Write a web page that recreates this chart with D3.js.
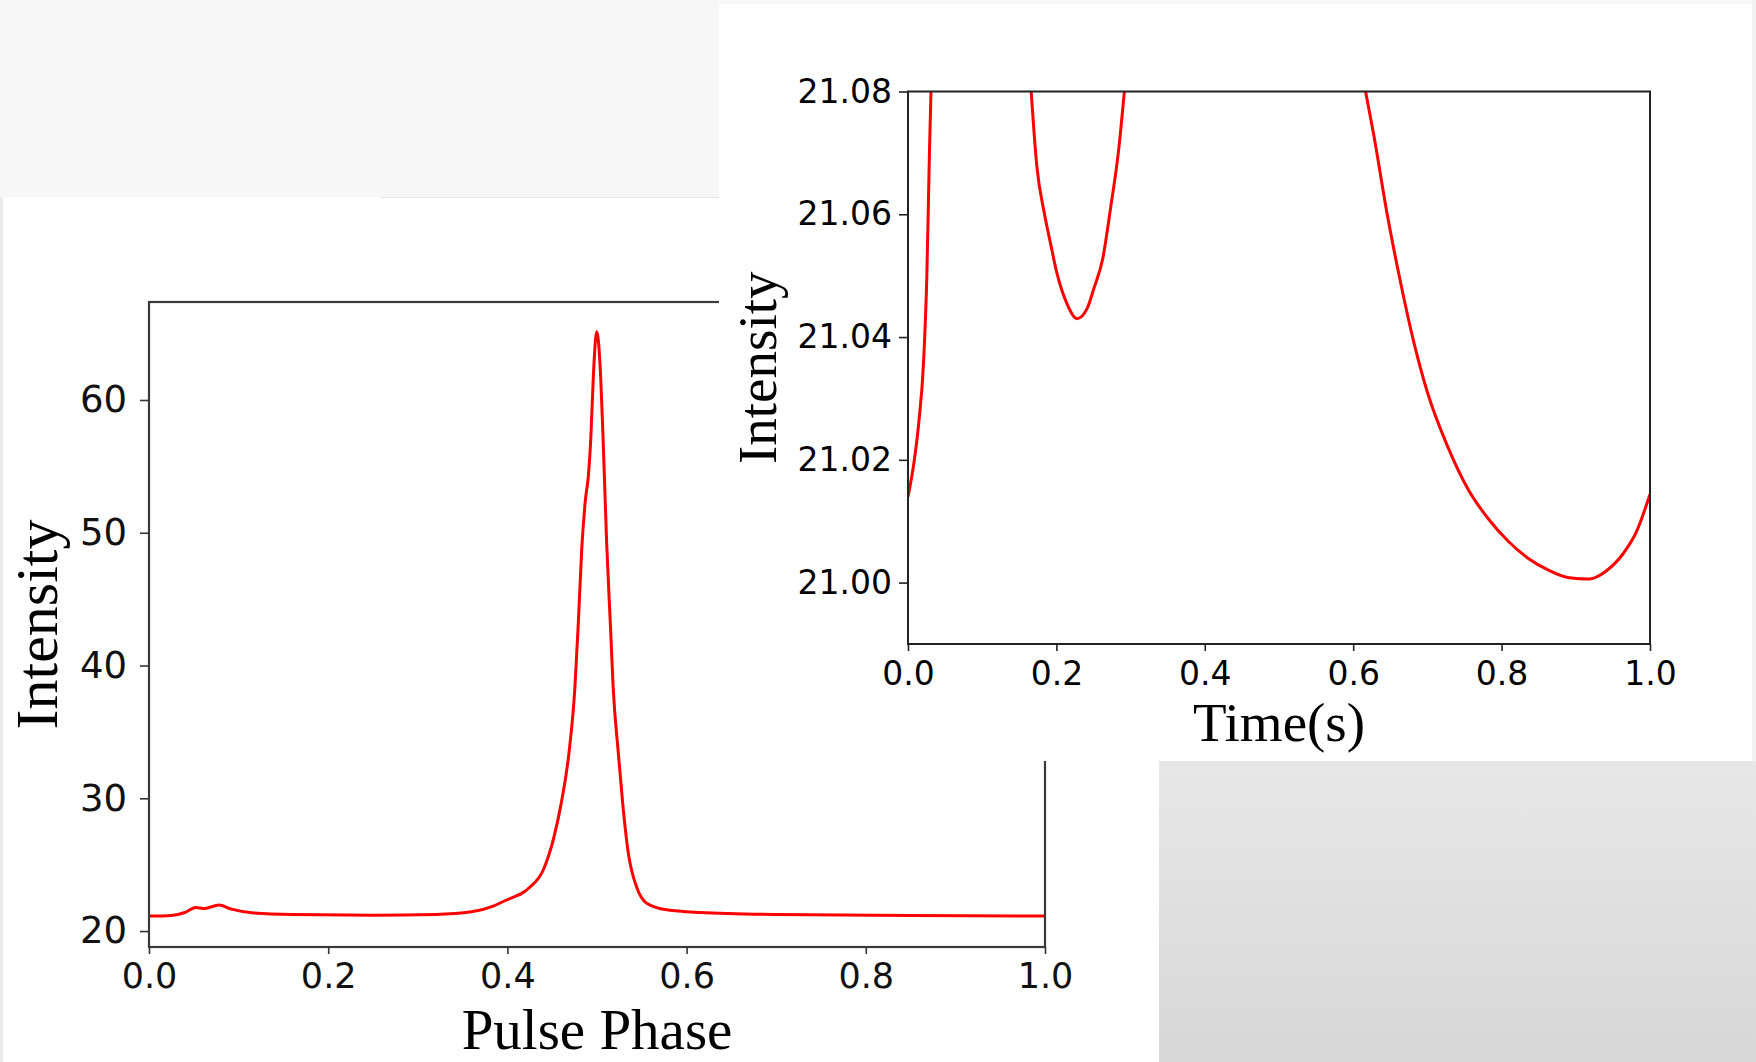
<!DOCTYPE html>
<html>
<head>
<meta charset="utf-8">
<script src="https://cdn.jsdelivr.net/npm/d3@7"></script>
<style>
  html, body { margin: 0; padding: 0; background: #fff; }
  svg { display: block; }
</style>
</head>
<body>
<svg id="chart" width="1756" height="1062"></svg>
<script>
// ---------- Data: left panel (pulse profile) ----------
const pulsePhase = [0, 0.025, 0.04, 0.052, 0.062, 0.078, 0.092, 0.115, 0.16, 0.25, 0.32, 0.36, 0.385, 0.399, 0.41, 0.416, 0.425, 0.44, 0.452, 0.46, 0.4687, 0.4754, 0.479, 0.483, 0.4868, 0.4905, 0.493, 0.4959, 0.4997, 0.5041, 0.507, 0.5108, 0.515, 0.518, 0.5238, 0.5287, 0.535, 0.5443, 0.5555, 0.5778, 0.615, 0.7, 0.85, 1.0];
const pulseIntensity = [21.13, 21.18, 21.4, 21.78, 21.7, 21.96, 21.65, 21.38, 21.25, 21.2, 21.25, 21.45, 21.9, 22.34, 22.65, 22.84, 23.3, 24.6, 27.1, 29.6, 33.4, 38.4, 43.0, 48.8, 52.3, 54.4, 57.0, 61.75, 65.15, 61.75, 56.7, 49.2, 43.0, 38.4, 33.4, 29.6, 25.85, 23.3, 22.1, 21.6, 21.4, 21.25, 21.18, 21.13];
const pulseXTicks = [0, 0.2, 0.4, 0.6, 0.8, 1.0];
const pulseYTicks = [20, 30, 40, 50, 60];

// ---------- Data: right panel (zoom, time domain) ----------
// null = curve is above the visible range
const timeS = [0, 0.0082, 0.0145, 0.021, 0.0254, 0.029, 0.031, 0.1, 0.166, 0.1735, 0.184, 0.192, 0.2007, 0.214, 0.228, 0.2416, 0.2507, 0.2625, 0.273, 0.284, 0.2916, 0.45, 0.6167, 0.6276, 0.6458, 0.664, 0.682, 0.7, 0.7275, 0.7548, 0.782, 0.8093, 0.8365, 0.8638, 0.891, 0.918, 0.941, 0.9637, 0.9818, 1.0];
const timeIntensity = [21.014, 21.0197, 21.026, 21.036, 21.05, 21.0706, 21.08, null, 21.08, 21.068, 21.06, 21.0553, 21.0504, 21.0455, 21.043, 21.0447, 21.048, 21.0528, 21.061, 21.0706, 21.08, null, 21.08, 21.073, 21.06, 21.0488, 21.039, 21.031, 21.0221, 21.0152, 21.0104, 21.0067, 21.0039, 21.002, 21.0008, 21.0006, 21.0019, 21.0047, 21.0083, 21.0144];
const timeXTicks = [0, 0.2, 0.4, 0.6, 0.8, 1.0];
const timeYTicks = [21.00, 21.02, 21.04, 21.06, 21.08];

const svg = d3.select("#chart");
const W = 1756, H = 1062;

// ---------- background pieces ----------
svg.append("rect").attr("x", 0).attr("y", 0).attr("width", W).attr("height", H).attr("fill", "#ffffff");
svg.append("rect").attr("x", 0).attr("y", 0).attr("width", 719).attr("height", 197).attr("fill", "#f7f7f7");
svg.append("line").attr("x1", 380).attr("x2", 719).attr("y1", 197.5).attr("y2", 197.5).attr("stroke", "#e6e6e6").attr("stroke-width", 1);
svg.append("rect").attr("x", 0).attr("y", 197).attr("width", 3).attr("height", H - 197).attr("fill", "#ebebeb");

// ---------- Left chart ----------
const L = { left: 149, right: 1045, top: 302, bottom: 947 };
const xL = d3.scaleLinear().domain([0, 1]).range([L.left, L.right]);
const yL = d3.scaleLinear().domain([18.8, 67.38]).range([L.bottom, L.top]);

const gL = svg.append("g");

const lineL = d3.line()
  .x((d, i) => xL(pulsePhase[i]))
  .y(d => yL(d))
  .curve(d3.curveMonotoneX);

gL.append("path")
  .datum(pulseIntensity)
  .attr("d", lineL)
  .attr("fill", "none")
  .attr("stroke", "#ff0000")
  .attr("stroke-width", 3)
  .attr("stroke-linejoin", "round");

gL.append("rect")
  .attr("x", L.left).attr("y", L.top)
  .attr("width", L.right - L.left).attr("height", L.bottom - L.top)
  .attr("fill", "none").attr("stroke", "#3a3a3a").attr("stroke-width", 2.2);

const axLx = gL.append("g").attr("transform", `translate(0,${L.bottom})`)
  .call(d3.axisBottom(xL).tickValues(pulseXTicks).tickFormat(d3.format(".1f")).tickSize(7).tickPadding(9).tickSizeOuter(0));
const axLy = gL.append("g").attr("transform", `translate(${L.left},0)`)
  .call(d3.axisLeft(yL).tickValues(pulseYTicks).tickFormat(d3.format("d")).tickSize(9).tickPadding(13).tickSizeOuter(0));
[axLx, axLy].forEach(a => {
  a.select(".domain").remove();
  a.selectAll(".tick line").attr("stroke", "#333").attr("stroke-width", 1.6);
  a.selectAll(".tick text").attr("fill", "#111").style("font-family", "'DejaVu Sans', sans-serif").style("font-size", "37px");
});
axLx.selectAll(".tick text").style("font-size", "35px");

gL.append("text")
  .attr("x", (L.left + L.right) / 2).attr("y", 1049)
  .attr("text-anchor", "middle")
  .style("font-family", "'Liberation Serif', 'Times New Roman', serif")
  .style("font-size", "57px").attr("fill", "#000")
  .text("Pulse Phase");

gL.append("text")
  .attr("transform", `translate(57,${(L.top + L.bottom) / 2}) rotate(-90)`)
  .attr("text-anchor", "middle")
  .style("font-family", "'Liberation Serif', 'Times New Roman', serif")
  .style("font-size", "60px").attr("fill", "#000")
  .text("Intensity");

// ---------- Right panel background ----------
svg.append("rect").attr("x", 719).attr("y", 0).attr("width", W - 719).attr("height", 4).attr("fill", "#f7f7f7");
svg.append("rect").attr("x", 719).attr("y", 4).attr("width", 1033).attr("height", 757).attr("fill", "#ffffff");
svg.append("rect").attr("x", 1752).attr("y", 0).attr("width", 4).attr("height", 761).attr("fill", "#f1f1f1");

const defs = svg.append("defs");
const grad = defs.append("linearGradient").attr("id", "grayGrad").attr("x1", 0).attr("y1", 0).attr("x2", 0).attr("y2", 1);
grad.append("stop").attr("offset", "0%").attr("stop-color", "#e7e7e7");
grad.append("stop").attr("offset", "100%").attr("stop-color", "#d7d7d7");
svg.append("rect").attr("x", 1159).attr("y", 761).attr("width", W - 1159).attr("height", H - 761).attr("fill", "url(#grayGrad)");

// ---------- Right chart ----------
const R = { left: 908, right: 1650, top: 91.5, bottom: 644 };
const xR = d3.scaleLinear().domain([0, 1]).range([R.left, R.right]);
const yR = d3.scaleLinear().domain([20.99, 21.08]).range([R.bottom, R.top]);

defs.append("clipPath").attr("id", "clipR").append("rect")
  .attr("x", R.left).attr("y", R.top).attr("width", R.right - R.left).attr("height", R.bottom - R.top);

const gR = svg.append("g");

const lineR = d3.line()
  .defined(d => d != null)
  .x((d, i) => xR(timeS[i]))
  .y(d => yR(d))
  .curve(d3.curveMonotoneX);

gR.append("path")
  .datum(timeIntensity)
  .attr("d", lineR)
  .attr("clip-path", "url(#clipR)")
  .attr("fill", "none")
  .attr("stroke", "#ff0000")
  .attr("stroke-width", 3)
  .attr("stroke-linejoin", "round");

gR.append("rect")
  .attr("x", R.left).attr("y", R.top)
  .attr("width", R.right - R.left).attr("height", R.bottom - R.top)
  .attr("fill", "none").attr("stroke", "#222").attr("stroke-width", 2);

const axRx = gR.append("g").attr("transform", `translate(0,${R.bottom})`)
  .call(d3.axisBottom(xR).tickValues(timeXTicks).tickFormat(d3.format(".1f")).tickSize(7).tickPadding(11).tickSizeOuter(0));
const axRy = gR.append("g").attr("transform", `translate(${R.left},0)`)
  .call(d3.axisLeft(yR).tickValues(timeYTicks).tickFormat(d3.format(".2f")).tickSize(9).tickPadding(7).tickSizeOuter(0));
[axRx, axRy].forEach(a => {
  a.select(".domain").remove();
  a.selectAll(".tick line").attr("stroke", "#222").attr("stroke-width", 1.6);
  a.selectAll(".tick text").attr("fill", "#000").style("font-family", "'DejaVu Sans', sans-serif").style("font-size", "33px");
});

gR.append("text")
  .attr("x", (R.left + R.right) / 2).attr("y", 741)
  .attr("text-anchor", "middle")
  .style("font-family", "'Liberation Serif', 'Times New Roman', serif")
  .style("font-size", "55px").attr("fill", "#000")
  .text("Time(s)");

gR.append("text")
  .attr("transform", `translate(776,${(R.top + R.bottom) / 2}) rotate(-90)`)
  .attr("text-anchor", "middle")
  .style("font-family", "'Liberation Serif', 'Times New Roman', serif")
  .style("font-size", "55px").attr("fill", "#000")
  .text("Intensity");
</script>
</body>
</html>
